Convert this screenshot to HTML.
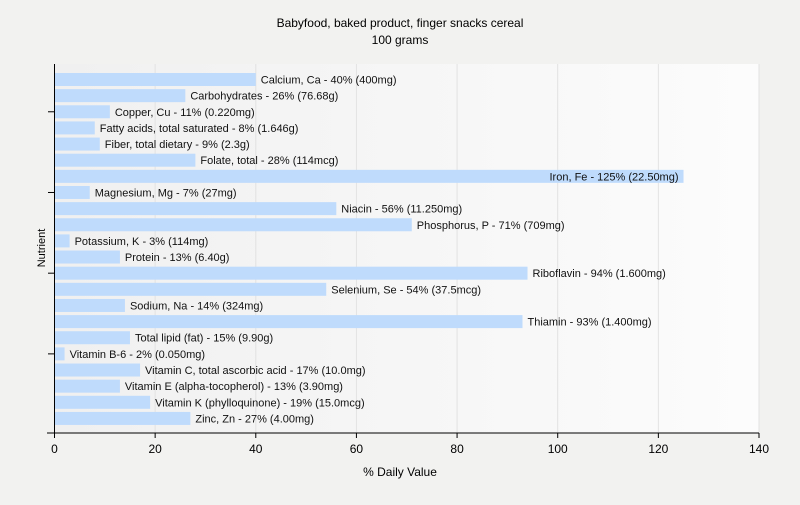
<!DOCTYPE html>
<html><head><meta charset="utf-8"><style>
body{margin:0;background:#f2f2f0;font-family:"Liberation Sans",sans-serif;}
svg text{font-family:"Liberation Sans",sans-serif;}
</style></head><body>
<svg id="c" width="800" height="500">
<defs><linearGradient id="g" x1="0" x2="1" y1="0" y2="0"><stop offset="0" stop-color="#f0f0f0"/><stop offset="1" stop-color="#fcfcfc"/></linearGradient></defs>
<rect x="0" y="0" width="800" height="500" fill="#f2f2f0"/>
<rect x="55" y="64" width="704" height="369" fill="url(#g)"/>
<text x="400" y="27" text-anchor="middle" font-size="12">Babyfood, baked product, finger snacks cereal</text>
<text x="400" y="44" text-anchor="middle" font-size="12">100 grams</text>
<text x="400" y="476" text-anchor="middle" font-size="12">% Daily Value</text>
<text x="45" y="248" text-anchor="middle" font-size="11" transform="rotate(-90 45 248)">Nutrient</text>
<g id="grid"></g><g id="bars"></g><g id="axes"></g>
</svg>
<script>
const labels=["Calcium, Ca - 40% (400mg)","Carbohydrates - 26% (76.68g)","Copper, Cu - 11% (0.220mg)","Fatty acids, total saturated - 8% (1.646g)","Fiber, total dietary - 9% (2.3g)","Folate, total - 28% (114mcg)","Iron, Fe - 125% (22.50mg)","Magnesium, Mg - 7% (27mg)","Niacin - 56% (11.250mg)","Phosphorus, P - 71% (709mg)","Potassium, K - 3% (114mg)","Protein - 13% (6.40g)","Riboflavin - 94% (1.600mg)","Selenium, Se - 54% (37.5mcg)","Sodium, Na - 14% (324mg)","Thiamin - 93% (1.400mg)","Total lipid (fat) - 15% (9.90g)","Vitamin B-6 - 2% (0.050mg)","Vitamin C, total ascorbic acid - 17% (10.0mg)","Vitamin E (alpha-tocopherol) - 13% (3.90mg)","Vitamin K (phylloquinone) - 19% (15.0mcg)","Zinc, Zn - 27% (4.00mg)"];
const values=[40,26,11,8,9,28,125,7,56,71,3,13,94,54,14,93,15,2,17,13,19,27];
const xTicks=[0,20,40,60,80,100,120,140];
const NS="http://www.w3.org/2000/svg";
const x=v=>54.5+v*(704.5/140);
const y=i=>73+i*16.14;
function mk(t,a,p){const e=document.createElementNS(NS,t);for(const k in a)e.setAttribute(k,a[k]);p.appendChild(e);return e;}
const grid=document.getElementById('grid'),bars=document.getElementById('bars'),axes=document.getElementById('axes');
xTicks.forEach(t=>{
 if(t>0){const l=mk('line',{x1:x(t),x2:x(t),y1:64,y2:433,stroke:'#e2e2e2'},grid);
 
 }
 const tk=mk('line',{x1:x(t),x2:x(t),y1:433,y2:438,stroke:'#000'},axes);
 
 
 const tx=mk('text',{x:x(t),y:453,'text-anchor':'middle','font-size':12},axes);tx.textContent=t;
 
 
});
values.forEach((v,i)=>{
 const r=mk('rect',{x:x(0),y:y(i),width:x(v)-x(0),height:13,fill:'#bfdbfc'},bars);
 
 
 const t=mk('text',{x:x(v)+5,y:y(i)+10.5,'font-size':11,fill:'#111'},bars);t.textContent=labels[i];
 
 
 if(x(v)+5+t.getComputedTextLength()>759){t.setAttribute('x',x(v)-5);t.setAttribute('text-anchor','end');}
});
[2,7,12,17].forEach(i=>{const l=mk('line',{x1:48,x2:54.5,y1:y(i)+6.5,y2:y(i)+6.5,stroke:'#000'},axes);
 
 });
const ya=mk('line',{x1:54.5,x2:54.5,y1:64,y2:433,stroke:'#000'},axes);


const xa=mk('line',{x1:47,x2:759,y1:433,y2:433,stroke:'#000'},axes);


</script>
</body></html>
